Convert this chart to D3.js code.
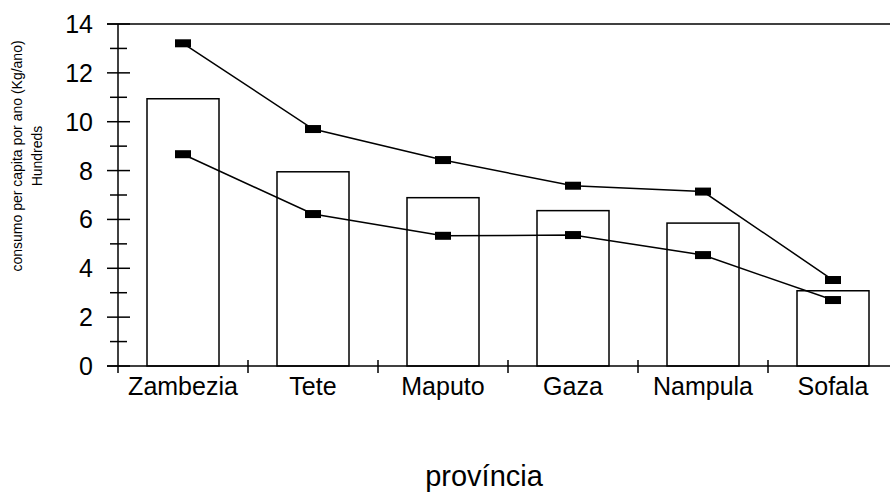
<!DOCTYPE html>
<html>
<head>
<meta charset="utf-8">
<script src="https://cdn.jsdelivr.net/npm/d3@7"></script>
<style>
  body { margin: 0; background: #fff; }
  text { font-family: "Liberation Sans", Arial, sans-serif; fill: #000; }
</style>
</head>
<body>
<div id="chart"></div>
<script>
var provinces = ["Zambezia", "Tete", "Maputo", "Gaza", "Nampula", "Sofala"];
var barValues = [10.94, 7.95, 6.89, 6.36, 5.85, 3.08];
var upperValues = [13.21, 9.70, 8.43, 7.38, 7.14, 3.52];
var lowerValues = [8.67, 6.22, 5.33, 5.36, 4.54, 2.70];
var majorTicks = [0, 2, 4, 6, 8, 10, 12, 14];
var minorTicks = [1, 3, 5, 7, 9, 11, 13];

var width = 890, height = 494;
var plotLeft = 118, plotTop = 24, plotBottom = 366;

var svg = d3.select("#chart").append("svg")
    .attr("width", width)
    .attr("height", height);

var x = d3.scaleBand()
    .domain(provinces)
    .range([plotLeft, plotLeft + 6 * 130])
    .paddingInner(0)
    .paddingOuter(0);

var y = d3.scaleLinear()
    .domain([0, 14])
    .range([plotBottom, plotTop]);

// top frame line (runs off to the right)
svg.append("line")
    .attr("x1", 107).attr("x2", width)
    .attr("y1", y(14)).attr("y2", y(14))
    .attr("stroke", "#000").attr("stroke-width", 1.5);

// bars
var bw = 72;
svg.append("g").selectAll("rect")
  .data(provinces)
  .enter().append("rect")
    .attr("x", function(d) { return x(d) + x.bandwidth() / 2 - bw / 2; })
    .attr("y", function(d, i) { return y(barValues[i]); })
    .attr("width", bw)
    .attr("height", function(d, i) { return y(0) - y(barValues[i]); })
    .attr("fill", "#fff")
    .attr("stroke", "#000")
    .attr("stroke-width", 1.5);

// y axis
var yAxis = svg.append("g");
yAxis.append("line")
    .attr("x1", plotLeft).attr("x2", plotLeft)
    .attr("y1", y(14)).attr("y2", plotBottom + 7)
    .attr("stroke", "#000").attr("stroke-width", 1.5);
yAxis.selectAll(".major")
  .data(majorTicks)
  .enter().append("line")
    .attr("x1", 107).attr("x2", 130)
    .attr("y1", function(d) { return y(d); })
    .attr("y2", function(d) { return y(d); })
    .attr("stroke", "#000").attr("stroke-width", 1.5);
yAxis.selectAll(".minor")
  .data(minorTicks)
  .enter().append("line")
    .attr("x1", 110).attr("x2", 127)
    .attr("y1", function(d) { return y(d); })
    .attr("y2", function(d) { return y(d); })
    .attr("stroke", "#000").attr("stroke-width", 1.5);
yAxis.selectAll("text")
  .data(majorTicks)
  .enter().append("text")
    .attr("x", 93)
    .attr("y", function(d) { return y(d); })
    .attr("dy", "0.36em")
    .attr("text-anchor", "end")
    .attr("font-size", 25)
    .text(function(d) { return d; });

// x axis
var xAxis = svg.append("g");
xAxis.append("line")
    .attr("x1", 107).attr("x2", width)
    .attr("y1", plotBottom).attr("y2", plotBottom)
    .attr("stroke", "#000").attr("stroke-width", 1.5);
xAxis.selectAll(".tick")
  .data(provinces.slice(1))
  .enter().append("line")
    .attr("x1", function(d) { return x(d); })
    .attr("x2", function(d) { return x(d); })
    .attr("y1", plotBottom - 6).attr("y2", plotBottom + 7)
    .attr("stroke", "#000").attr("stroke-width", 1.5);
xAxis.selectAll("text")
  .data(provinces)
  .enter().append("text")
    .attr("x", function(d) { return x(d) + x.bandwidth() / 2; })
    .attr("y", 395)
    .attr("text-anchor", "middle")
    .attr("font-size", 25)
    .text(function(d) { return d; });

// lines with square markers
var line = d3.line()
    .x(function(d, i) { return x(provinces[i]) + x.bandwidth() / 2; })
    .y(function(d) { return y(d); });

[upperValues, lowerValues].forEach(function(series) {
  svg.append("path")
      .datum(series)
      .attr("d", line)
      .attr("fill", "none")
      .attr("stroke", "#000")
      .attr("stroke-width", 1.5);
  svg.append("g").selectAll("rect")
    .data(series)
    .enter().append("rect")
      .attr("x", function(d, i) { return x(provinces[i]) + x.bandwidth() / 2 - 8; })
      .attr("y", function(d) { return y(d) - 4; })
      .attr("width", 16)
      .attr("height", 8)
      .attr("fill", "#000");
});

// axis titles
var yTitle = svg.append("g")
    .attr("transform", "translate(0," + 156 + ") rotate(-90)");
yTitle.append("text")
    .attr("x", 0).attr("y", 22)
    .attr("text-anchor", "middle")
    .attr("font-size", 14)
    .text("consumo per capita por ano (Kg/ano)");
yTitle.append("text")
    .attr("x", 0).attr("y", 42)
    .attr("text-anchor", "middle")
    .attr("font-size", 14)
    .text("Hundreds");

svg.append("text")
    .attr("x", 484)
    .attr("y", 486)
    .attr("text-anchor", "middle")
    .attr("font-size", 29)
    .text("província");
</script>
</body>
</html>
